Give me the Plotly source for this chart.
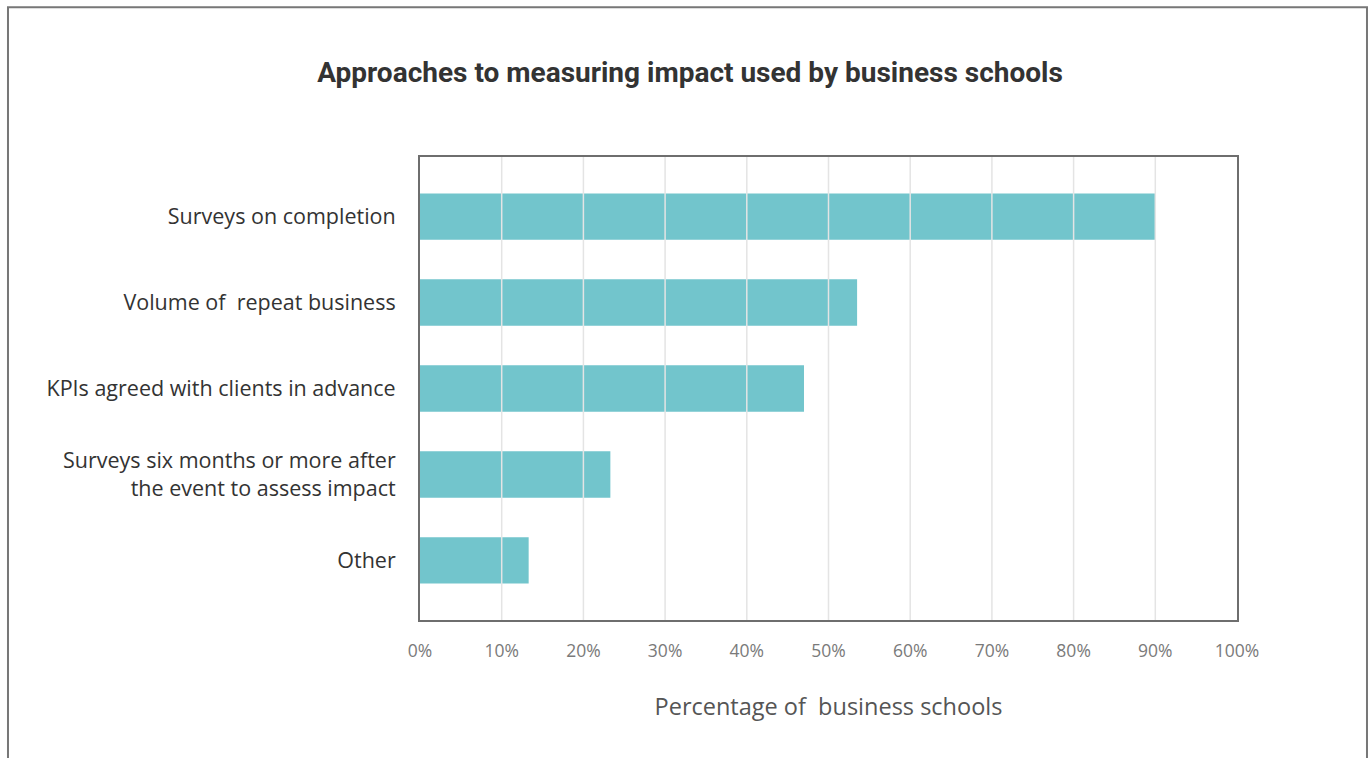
import plotly.graph_objects as go

categories = [
    "Surveys on completion",
    "Volume of  repeat business",
    "KPIs agreed with clients in advance",
    "Surveys six months or more after<br>the event to assess impact",
    "Other",
]
values = [90.0, 53.5, 47.0, 23.3, 13.3]
tick_vals = [0, 10, 20, 30, 40, 50, 60, 70, 80, 90, 100]
tick_text = [f"{v}%" for v in tick_vals]

BAR = "#72C5CC"
FRAME = "#6e6e6e"

fig = go.Figure()
fig.add_trace(go.Bar(
    x=values, y=categories, orientation="h",
    marker=dict(color=BAR, line=dict(width=0)),
    width=0.54, hoverinfo="x+y",
))

# gridlines drawn above bars
shapes = []
for v in tick_vals[1:-1]:
    shapes.append(dict(type="line", xref="x", yref="paper", x0=v, x1=v, y0=0, y1=1,
                       line=dict(color="#e4e4e4", width=1.5), layer="above"))
# outer frame
shapes.append(dict(type="rect", xref="paper", yref="paper",
                   x0=-0.5043, x1=1.1591, y0=-0.6, y1=1.3236,
                   line=dict(color="#777777", width=2), layer="below"))

fig.update_layout(
    width=1371, height=758,
    margin=dict(l=420, r=134, t=157, b=138),
    paper_bgcolor="white", plot_bgcolor="white",
    showlegend=False,
    title=dict(text="<b>Approaches to measuring impact used by business schools</b>",
               x=690 / 1371, xanchor="center", y=1 - 72 / 758, yanchor="middle",
               yref="container",
               font=dict(family="Roboto", size=28, color="#333333")),
    shapes=shapes,
    xaxis=dict(range=[0, 100], tickvals=tick_vals, ticktext=tick_text,
               showgrid=False, zeroline=False,
               showline=True, mirror=True, linecolor=FRAME, linewidth=2,
               ticks="", ticklabelstandoff=14,
               tickfont=dict(family="Open Sans", size=17.5, color="#7a7a7a"),
               title=dict(text="Percentage of  business schools", standoff=38,
                          font=dict(family="Open Sans", size=23.5, color="#555555"))),
    yaxis=dict(categoryorder="array", categoryarray=categories[::-1],
               range=[-0.694, 4.694], autorange=False,
               showgrid=False, zeroline=False,
               showline=True, mirror=True, linecolor=FRAME, linewidth=2,
               ticks="", ticklabelstandoff=18,
               tickfont=dict(family="Open Sans", size=21.5, color="#333333")),
    bargap=0.46,
)

fig.write_html("out.html")
